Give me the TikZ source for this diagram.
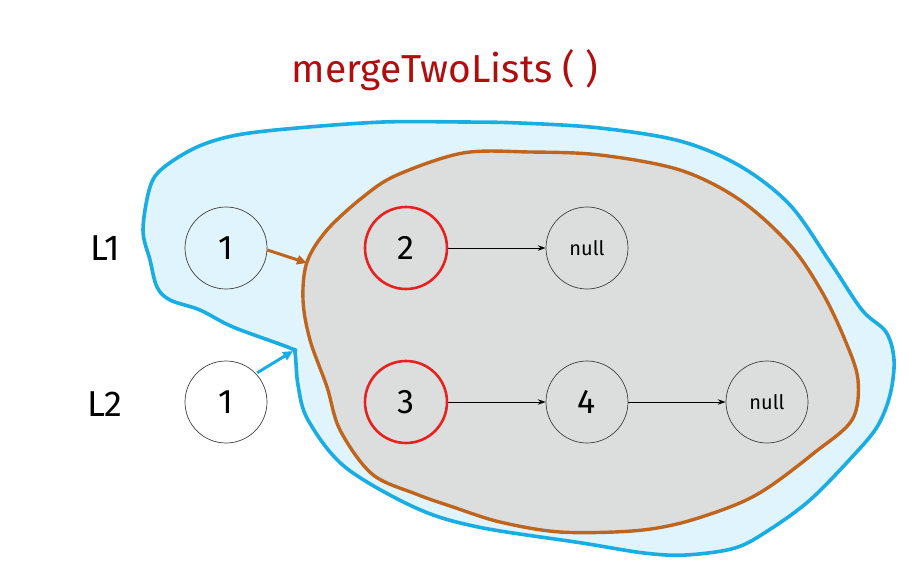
\documentclass[tikz,border=0pt]{standalone}
\usepackage{fontspec}
\setmainfont{Fira Sans}
\usetikzlibrary{arrows.meta}
\definecolor{blueline}{HTML}{1AADE4}
\definecolor{bluefill}{HTML}{DFF4FC}
\definecolor{brownline}{HTML}{C0651E}
\definecolor{grayfill}{HTML}{DCDEDD}
\definecolor{redline}{HTML}{E82020}
\definecolor{titlered}{HTML}{B00E0E}
\tikzset{
  lnode/.style={circle, draw=black!75, line width=0.7pt, minimum size=82pt, inner sep=0pt, font=\fontsize{34}{34}\selectfont},
  rnode/.style={lnode, draw=redline, line width=2.6pt},
  nullnode/.style={lnode, font=\fontsize{20}{20}\selectfont},
  lab/.style={font=\fontsize{36}{36}\selectfont},
  link/.style={-{Stealth[length=8pt,width=5.5pt]}, line width=1pt, black},
}
\begin{document}
\begin{tikzpicture}[x=1pt,y=-1pt]
\useasboundingbox (0,0) rectangle (923,583);
% blue outer blob
\draw[blueline, fill=bluefill, line width=3.6pt, line join=round]
  plot[smooth cycle, tension=0.55] coordinates {
   (143,230) (150,187) (163,168) (197,147) (237,135) (297,128) (383,122) (463,122)
   (520,123) (600,128) (680,141) (740,166) (790,205) (830,262) (862,310) (886,332)
   (894,360) (890,395) (877,427) (852,457) (810,500) (769,530) (735,548) (686,555)
   (644,553) (582,543) (478,527) (416,508) (345,467) (308,420) (298,385) (295,353)
   (290,348) (233,327) (200,310) (170,300) (157,287) (150,260)};
% brown inner blob
\draw[brownline, fill=grayfill, line width=3.4pt, line join=round]
  plot[smooth cycle, tension=0.55] coordinates {
   (307,262) (327,230) (363,197) (397,175) (463,153) (530,152) (600,155) (680,170)
   (740,200) (790,245) (822,292) (845,340) (858,380) (852,420) (814,453) (769,487)
   (735,505) (681,523) (632,531) (560,532) (500,522) (453,507) (416,494) (372,474)
   (340,430) (327,387) (310,340) (303,300)};
% title
\node[text=titlered, font=\fontsize{39}{39}\selectfont] (title) at (445,70) {mergeTwoLists ( )};
% labels
\node[lab] (L1) at (105,248) {L1};
\node[lab] (L2) at (105,404) {L2};
% nodes
\node[lnode] (a1) at (226,248) {1};
\node[lnode] (b1) at (226,402) {1};
\node[rnode] (a2) at (406,248) {2};
\node[nullnode] (an) at (587,248) {null};
\node[rnode] (b3) at (406,402) {3};
\node[lnode] (b4) at (587,402) {4};
\node[nullnode] (bn) at (767,402) {null};
% connectors
\draw[link] (a2) -- (an);
\draw[link] (b3) -- (b4);
\draw[link] (b4) -- (bn);
\coordinate (brownhit) at (307,263);
\coordinate (bluehit) at (293,351);
\draw[brownline, line width=3pt, -{Triangle[length=10pt,width=9pt]}] (a1.east) ++(0,2) -- (brownhit);
\draw[blueline, line width=3pt, -{Triangle[length=10pt,width=9pt]}] (b1.north east) ++(2,0) -- (bluehit);
\end{tikzpicture}
\end{document}
